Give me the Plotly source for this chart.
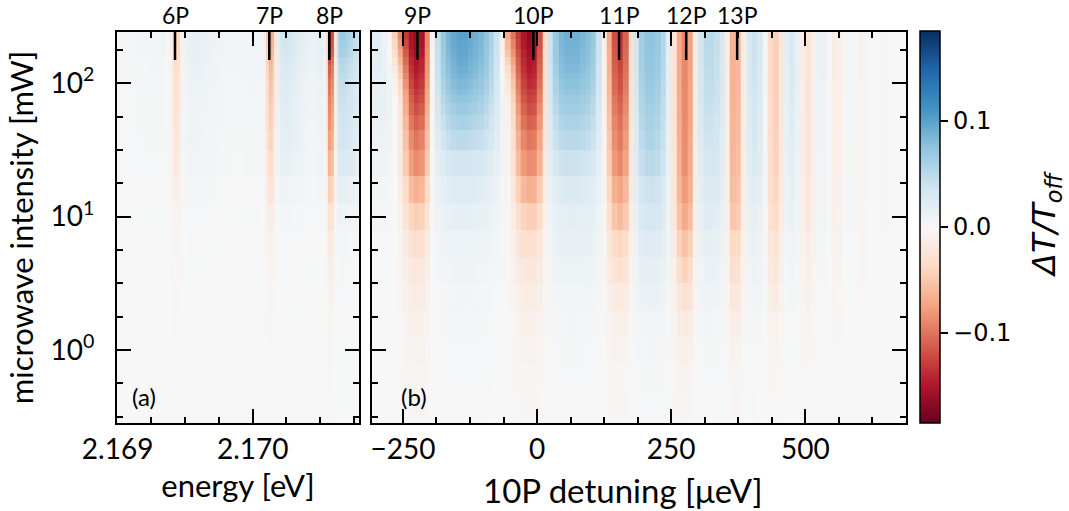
import numpy as np
import plotly.graph_objects as go
import plotly.express as px

# ---------------------------------------------------------------
# Data
# ---------------------------------------------------------------
# Microwave power rows: bin edges in mW (bottom -> top)
POWER_EDGES_MW = [0.2, 0.32, 0.5, 0.79, 1.26, 2.0, 3.16, 5.0, 7.9, 12.6, 20.0,
                  31.6, 44.7, 57.5, 70.8, 81.3, 91.2, 107, 120, 138, 158, 182,
                  214, 251]

# Panel (a): energy bins (eV) and dT/T_off at the highest power
ENERGY_A_START = 2.16898
ENERGY_A_STEP = 0.00002
PROFILE_A = [0.004, 0.004, 0.004, 0.004, 0.004, 0.004, 0.004, 0.004, 0.005, 0.005,
             0.005, 0.005, 0.005, 0.006, 0.006, 0.006, 0.006, 0.006, 0.005, 0.003,
             -0.005, -0.025, -0.04, -0.035, -0.012, 0.006, 0.012, 0.015, 0.015, 0.016,
             0.016, 0.015, 0.014, 0.013, 0.012, 0.012, 0.011, 0.010, 0.009, 0.008,
             0.007, 0.007, 0.006, 0.006, 0.006, 0.006, 0.006, 0.006, 0.006, 0.007,
             0.007, 0.007, 0.008, 0.008, 0.006, -0.01, -0.05, -0.075, -0.065, -0.02,
             0.02, 0.033, 0.037, 0.037, 0.035, 0.032, 0.028, 0.025, 0.022, 0.019,
             0.016, 0.014, 0.012, 0.011, 0.013, 0.016, 0.018, 0.01, -0.035, -0.14,
             -0.12, -0.02, 0.05, 0.068, 0.068, 0.064, 0.06, 0.055, 0.05, 0.045,
             0.04]
# relative strength of the negative / positive signal per power row
RED_SCALE_A = [0.01, 0.01, 0.015, 0.02, 0.03, 0.05, 0.08, 0.13, 0.2, 0.32, 0.46,
               0.55, 0.6, 0.63, 0.66, 0.69, 0.72, 0.76, 0.8, 0.85, 0.92, 0.97, 1.0]
BLUE_SCALE_A = [0.01, 0.01, 0.01, 0.015, 0.02, 0.03, 0.04, 0.07, 0.13, 0.24, 0.4,
                0.5, 0.55, 0.58, 0.6, 0.63, 0.66, 0.7, 0.75, 0.8, 0.9, 0.95, 1.0]

# Panel (b): detuning bins (ueV) and dT/T_off at the highest power
DETUNING_START = -310
DETUNING_STEP = 10
PROFILE_B = [0.02, 0.02, 0.02, 0.015, 0.004, -0.03, -0.09, -0.145, -0.165, -0.155,
             -0.09, -0.005, 0.045, 0.07, 0.085, 0.095, 0.1, 0.1, 0.095, 0.09,
             0.085, 0.075, 0.06, 0.04, 0.015, -0.01, -0.05, -0.11, -0.15, -0.165,
             -0.16, -0.12, -0.035, 0.04, 0.07, 0.085, 0.09, 0.09, 0.09, 0.085,
             0.08, 0.07, 0.04, -0.01, -0.07, -0.12, -0.135, -0.11, -0.03, 0.035,
             0.065, 0.075, 0.075, 0.07, 0.055, 0.02, -0.025, -0.07, -0.09, -0.075,
             -0.015, 0.035, 0.05, 0.05, 0.045, 0.03, -0.015, -0.065, -0.06, -0.015,
             0.03, 0.04, 0.03, 0.005, -0.035, -0.045, -0.02, 0.018, 0.028, 0.015,
             -0.012, -0.025, -0.012, 0.01, 0.012, 0.002, -0.012, -0.01, 0.003, 0.004,
             -0.003, -0.006, -0.002, 0.002, 0.0, -0.003, -0.001, 0.0, 0.0, 0.0]
# detuning limits separating the 9P/10P, 11P and 12P+ groups
GROUP_LIMITS_B = [20, 180]
RED_SCALE_B = [
    [0.01, 0.015, 0.025, 0.04, 0.06, 0.09, 0.13, 0.19, 0.28, 0.4, 0.53,
     0.6, 0.67, 0.73, 0.77, 0.8, 0.84, 0.87, 0.9, 0.92, 0.95, 0.98, 1.0],
    [0.01, 0.02, 0.03, 0.05, 0.08, 0.13, 0.22, 0.3, 0.44, 0.55, 0.67,
     0.72, 0.76, 0.8, 0.83, 0.86, 0.88, 0.9, 0.92, 0.94, 0.96, 0.98, 1.0],
    [0.03, 0.04, 0.07, 0.12, 0.2, 0.31, 0.47, 0.6, 0.78, 0.88, 0.94,
     0.96, 0.97, 0.98, 0.98, 0.99, 0.99, 1.0, 1.0, 1.0, 1.0, 1.0, 1.0],
]
BLUE_SCALE_B = [
    [0.01, 0.015, 0.02, 0.025, 0.035, 0.05, 0.08, 0.11, 0.17, 0.25, 0.36,
     0.5, 0.6, 0.68, 0.74, 0.79, 0.83, 0.87, 0.9, 0.93, 0.96, 0.98, 1.0],
    [0.01, 0.015, 0.02, 0.03, 0.05, 0.075, 0.11, 0.16, 0.22, 0.3, 0.45,
     0.57, 0.65, 0.72, 0.77, 0.81, 0.85, 0.88, 0.91, 0.94, 0.96, 0.98, 1.0],
    [0.02, 0.03, 0.04, 0.06, 0.09, 0.16, 0.24, 0.33, 0.44, 0.53, 0.67,
     0.75, 0.8, 0.84, 0.87, 0.9, 0.92, 0.94, 0.95, 0.97, 0.98, 0.99, 1.0],
]
# low-energy broadening of 9P and 10P that appears at high power
WING_DETUNING = [-285, -275, -265, -255, -245, -235, -65, -55, -45, -35]
WING_VALUES = [-0.01, -0.02, -0.05, -0.06, -0.04, -0.01, -0.03, -0.06, -0.05, -0.02]
WING_SCALE = [0, 0, 0, 0, 0, 0, 0, 0, 0, 0, 0, 0, 0,
              0.02, 0.06, 0.12, 0.2, 0.3, 0.4, 0.55, 0.7, 0.85, 1.0]

# Rydberg P resonances
LINES_A = ["6P", "7P", "8P"]
LINES_A_ENERGY = [2.169425, 2.170123, 2.170567]
LINES_B = ["9P", "10P", "11P", "12P", "13P"]
LINES_B_DETUNING = [-223, -7, 153, 278, 373]

# colour bar ticks
CBAR_TICKS = [-0.1, 0.0, 0.1]
CBAR_LABELS = ["\u22120.1", "0.0", "0.1"]

# ---------------------------------------------------------------
# Build the heatmap matrices
# ---------------------------------------------------------------
pa = np.array(PROFILE_A)
edges_a = ENERGY_A_START + ENERGY_A_STEP * np.arange(len(pa) + 1)
z_a = np.where(pa[None, :] < 0,
               pa[None, :] * np.array(RED_SCALE_A)[:, None],
               pa[None, :] * np.array(BLUE_SCALE_A)[:, None])

pb = np.array(PROFILE_B)
edges_b = DETUNING_START + DETUNING_STEP * np.arange(len(pb) + 1)
centers_b = 0.5 * (edges_b[:-1] + edges_b[1:])
group = np.searchsorted(GROUP_LIMITS_B, centers_b, side="right")
red_b = np.array(RED_SCALE_B)[group].T
blue_b = np.array(BLUE_SCALE_B)[group].T
wing = np.zeros(len(pb))
for d, v in zip(WING_DETUNING, WING_VALUES):
    wing[int((d - DETUNING_START) // DETUNING_STEP)] = v
z_b = (np.where(pb[None, :] < 0, pb[None, :] * red_b, pb[None, :] * blue_b)
       + wing[None, :] * np.array(WING_SCALE)[:, None])

# ---------------------------------------------------------------
# Figure
# ---------------------------------------------------------------
W, H = 1069, 511
FONT = "Lato"

fig = go.Figure()
fig.add_trace(go.Heatmap(x=edges_a, y=POWER_EDGES_MW, z=z_a, coloraxis="coloraxis",
                         xaxis="x", yaxis="y", hoverinfo="skip"))
fig.add_trace(go.Heatmap(x=edges_b, y=POWER_EDGES_MW, z=z_b, coloraxis="coloraxis",
                         xaxis="x2", yaxis="y2", hoverinfo="skip"))

rdbu = px.colors.diverging.RdBu
colorscale = [[i / (len(rdbu) - 1), c] for i, c in enumerate(rdbu)]

ydom = [(H - 423) / H, (H - 32) / H]
yrange = [-0.548, 2.385]
minor_y = [10 ** (d + q) for d in range(-1, 3) for q in (0.25, 0.5, 0.75)]

axis_common = dict(
    showline=True, linecolor="black", linewidth=2, mirror="allticks",
    ticks="inside", ticklen=14, tickwidth=2, tickcolor="black",
    showgrid=False, zeroline=False, automargin=False,
    tickfont=dict(family=FONT, size=28, color="black"),
)
minor_common = dict(ticks="inside", ticklen=6, tickwidth=1.5, tickcolor="black",
                    showgrid=False)
TITLE_SIZE = 31

fig.update_layout(
    width=W, height=H, autosize=False,
    margin=dict(l=0, r=0, t=0, b=0, autoexpand=False),
    paper_bgcolor="white", plot_bgcolor="#f7f7f7",
    font=dict(family=FONT, color="black"),
    xaxis=dict(domain=[117 / W, 359 / W], range=[2.1689956, 2.170787], anchor="y",
               tickvals=[2.169, 2.170], ticktext=["2.169", "2.170"],
               minor=dict(dtick=0.00025, tick0=2.169, **minor_common),
               title=dict(text="energy [eV]", font=dict(family=FONT, size=TITLE_SIZE),
                          standoff=12),
               **axis_common),
    xaxis2=dict(domain=[372 / W, 906 / W], range=[-307.6, 687.7], anchor="y2",
                tickvals=[-250, 0, 250, 500], ticktext=["\u2212250", "0", "250", "500"],
                minor=dict(dtick=62.5, tick0=0, **minor_common),
                **axis_common),
    yaxis=dict(domain=ydom, type="log", range=yrange, anchor="x",
               tickvals=[1, 10, 100],
               ticktext=["10<sup>0</sup>", "10<sup>1</sup>", "10<sup>2</sup>"],
               minor=dict(tickvals=minor_y, **minor_common),
               ticklabelstandoff=15,
               title=dict(text="microwave intensity [mW]",
                          font=dict(family=FONT, size=TITLE_SIZE), standoff=8),
               **axis_common),
    yaxis2=dict(domain=ydom, type="log", range=yrange, anchor="x2", matches="y",
                tickvals=[1, 10, 100], showticklabels=False,
                minor=dict(tickvals=minor_y, **minor_common),
                **axis_common),
    coloraxis=dict(
        colorscale=colorscale, cmin=-0.185, cmax=0.185,
        colorbar=dict(
            x=920 / W, xanchor="left", y=ydom[0], yanchor="bottom",
            len=ydom[1] - ydom[0] + 1 / H, lenmode="fraction",
            thickness=20, thicknessmode="pixels", xpad=0, ypad=0,
            outlinewidth=1.5, outlinecolor="black",
            tickvals=CBAR_TICKS, ticktext=CBAR_LABELS,
            ticks="outside", ticklen=8, tickwidth=1.5, tickcolor="black",
            tickfont=dict(family="DejaVu Sans", size=24, color="black"),
        ),
    ),
)

# resonance markers and labels
shapes, annotations = [], []
for xref, names, pos in (("x", LINES_A, LINES_A_ENERGY), ("x2", LINES_B, LINES_B_DETUNING)):
    for name, p in zip(names, pos):
        shapes.append(dict(type="line", xref=xref,
                           yref="y domain" if xref == "x" else "y2 domain",
                           x0=p, x1=p, y0=1, y1=1 - 28 / 391,
                           line=dict(color="black", width=2.5)))
        annotations.append(dict(text=name, xref=xref, yref="paper", x=p, y=(H - 15) / H,
                                xanchor="center", yanchor="middle", showarrow=False,
                                font=dict(family=FONT, size=23, color="black")))

annotations.append(dict(text="(a)", xref="x domain", yref="y domain", x=13 / 242, y=27 / 391,
                        xanchor="left", yanchor="middle", showarrow=False,
                        font=dict(family=FONT, size=24, color="black")))
annotations.append(dict(text="(b)", xref="x2 domain", yref="y2 domain", x=27 / 534, y=27 / 391,
                        xanchor="left", yanchor="middle", showarrow=False,
                        font=dict(family=FONT, size=24, color="black")))
# x title of panel (b)
annotations.append(dict(text="10P detuning [\u03bceV]", xref="paper", yref="paper",
                        x=623 / W, y=(H - 490) / H, xanchor="center", yanchor="middle",
                        showarrow=False, font=dict(family=FONT, size=33, color="black")))
# colour bar title
annotations.append(dict(text="<i>\u0394T/T<sub>off</sub></i>", xref="paper", yref="paper",
                        x=1046 / W, y=(H - 225) / H, xanchor="center", yanchor="middle",
                        textangle=-90, showarrow=False,
                        font=dict(family="DejaVu Sans", size=32, color="black")))

fig.update_layout(shapes=shapes, annotations=annotations)
fig.write_html("out.html")
